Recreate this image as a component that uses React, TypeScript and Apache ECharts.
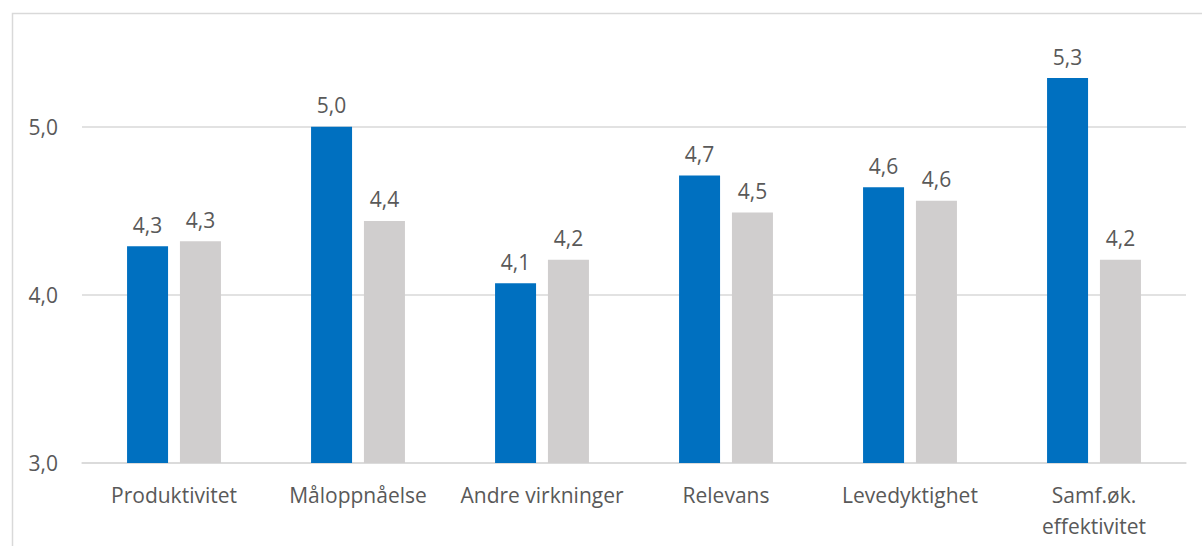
import React, { useEffect, useRef } from "react";
import * as echarts from "echarts";

const categories = [
  "Produktivitet",
  "Måloppnåelse",
  "Andre virkninger",
  "Relevans",
  "Levedyktighet",
  "Samf.øk.\neffektivitet",
];
const seriesA = [4.29, 5.0, 4.07, 4.71, 4.64, 5.29];
const seriesB = [4.32, 4.44, 4.21, 4.49, 4.56, 4.21];
const yMin = 3;
const yMax = 5.6;
const yInterval = 1;

const FONT = "'Open Sans', sans-serif";
const TEXT = "#595959";
const fmt = (v: number) => v.toFixed(1).replace(".", ",");

export default function App() {
  const ref = useRef<HTMLDivElement>(null);
  useEffect(() => {
    if (!ref.current) return;
    const chart = echarts.init(ref.current, undefined, { renderer: "svg" });
    const label = {
      show: true,
      position: "top",
      distance: 11,
      color: TEXT,
      fontFamily: FONT,
      fontSize: 21,
      formatter: (p: any) => fmt(p.value),
    };
    chart.setOption({
      animation: false,
      backgroundColor: "#ffffff",
      graphic: [
        {
          type: "rect",
          shape: { x: 12.5, y: 13.5, width: 1300, height: 700 },
          style: { fill: "none", stroke: "#d9d9d9", lineWidth: 1.5 },
          silent: true,
        },
      ],
      grid: { left: 82, right: 16, top: 26, bottom: 83 },
      xAxis: {
        type: "category",
        data: categories,
        axisLine: { show: true, lineStyle: { color: "#d9d9d9", width: 1.5 } },
        axisTick: { show: false },
        axisLabel: {
          color: TEXT,
          fontFamily: FONT,
          fontSize: 21,
          margin: 16,
          lineHeight: 31,
          interval: 0,
        },
      },
      yAxis: {
        type: "value",
        min: yMin,
        max: yMax,
        interval: yInterval,
        axisLine: { show: false },
        axisTick: { show: false },
        axisLabel: {
          color: TEXT,
          fontFamily: FONT,
          fontSize: 21,
          margin: 24,
          showMaxLabel: false,
          formatter: (v: number) => (Number.isInteger(v) ? fmt(v) : ""),
        },
        splitLine: {
          show: true,
          lineStyle: {
            color: ["#d9d9d9", "#d9d9d9", "#d9d9d9", "rgba(0,0,0,0)"],
            width: 1.5,
          },
        },
      },
      series: [
        {
          type: "bar",
          data: seriesA,
          itemStyle: { color: "#0070C0" },
          barWidth: 41,
          barGap: "29%",
          label,
        },
        {
          type: "bar",
          data: seriesB,
          itemStyle: { color: "#D0CECE" },
          barWidth: 41,
          label,
        },
      ],
    });
    return () => chart.dispose();
  }, []);
  return (
    <div
      ref={ref}
      style={{ position: "absolute", left: 0, top: 0, width: 1202, height: 546 }}
    />
  );
}
